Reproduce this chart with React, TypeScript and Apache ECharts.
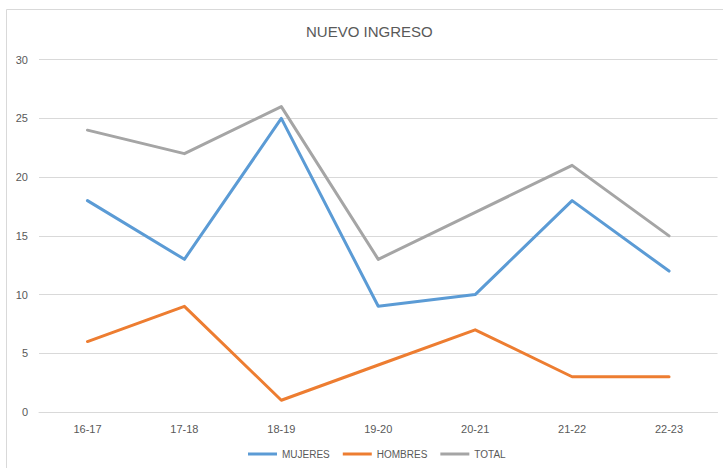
import React, { useEffect, useRef } from "react";
import * as echarts from "echarts";

const categories = ["16-17", "17-18", "18-19", "19-20", "20-21", "21-22", "22-23"];
const mujeres = [18, 13, 25, 9, 10, 18, 12];
const hombres = [6, 9, 1, 4, 7, 3, 3];
const total = [24, 22, 26, 13, 17, 21, 15];

const FONT = "'Liberation Sans', Arial, sans-serif";
const TEXT = "#595959";

export default function App() {
  const ref = useRef<HTMLDivElement>(null);
  useEffect(() => {
    document.body.style.margin = "0";
    const chart = echarts.init(ref.current!, null, { renderer: "svg" });
    const line = (name: string, data: number[], color: string) => ({
      name,
      type: "line",
      data,
      symbol: "none",
      itemStyle: { color },
      lineStyle: { color, width: 3, cap: "round", join: "round" },
    });
    chart.setOption({
      animation: false,
      backgroundColor: "#ffffff",
      textStyle: { fontFamily: FONT },
      title: {
        text: "NUEVO INGRESO",
        left: 306,
        top: 24,
        padding: 0,
        textStyle: { color: TEXT, fontSize: 15, fontWeight: "normal", fontFamily: FONT },
      },
      graphic: [
        {
          type: "rect",
          shape: { x: 6.5, y: 9.5, width: 800, height: 800 },
          style: { fill: "none", stroke: "#d9d9d9", lineWidth: 1 },
          silent: true,
          z: -1,
        },
      ],
      legend: {
        top: 447,
        left: 248,
        icon: "rect",
        itemWidth: 29,
        itemHeight: 3,
        itemGap: 13,
        itemTextGap: 1,
        padding: 0,
        textStyle: { color: TEXT, fontSize: 10, fontFamily: FONT, lineHeight: 14 },
        data: ["MUJERES", "HOMBRES", "TOTAL"],
      },
      grid: { left: 39, right: 5.5, top: 59.7, bottom: 56, containLabel: false },
      xAxis: {
        type: "category",
        data: categories,
        boundaryGap: true,
        axisLine: { show: true, lineStyle: { color: "#d9d9d9", width: 1 } },
        axisTick: { show: false },
        axisLabel: { color: TEXT, fontSize: 11, margin: 11, fontFamily: FONT },
      },
      yAxis: {
        type: "value",
        min: 0,
        max: 30,
        interval: 5,
        axisLine: { show: false },
        axisTick: { show: false },
        axisLabel: { color: TEXT, fontSize: 11, margin: 11, fontFamily: FONT },
        splitLine: { lineStyle: { color: "#d9d9d9", width: 1 } },
      },
      series: [
        line("MUJERES", mujeres, "#5B9BD5"),
        line("HOMBRES", hombres, "#ED7D31"),
        line("TOTAL", total, "#A5A5A5"),
      ],
    });
    return () => chart.dispose();
  }, []);
  return <div ref={ref} style={{ width: 723, height: 468 }} />;
}
